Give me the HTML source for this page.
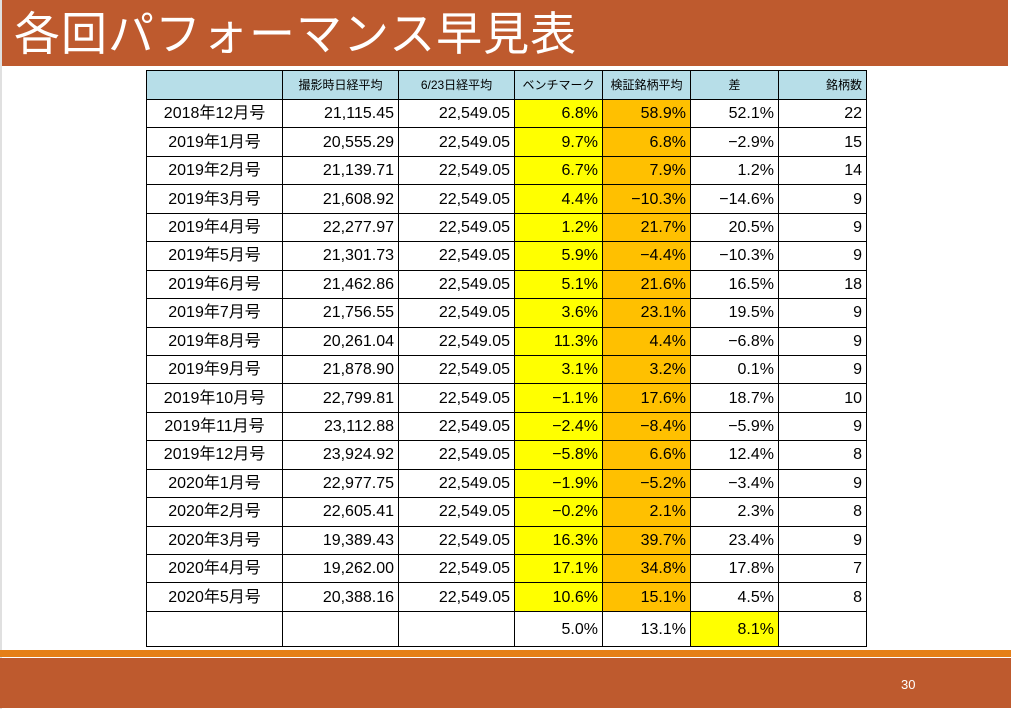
<!DOCTYPE html>
<html><head><meta charset="utf-8"><style>
body{margin:0;width:1011px;height:709px;background:#fff;position:relative;overflow:hidden;font-family:"Liberation Sans","Noto Sans CJK JP",sans-serif;}
#lg{position:absolute;left:0;top:0;width:2px;height:709px;background:#e0e0e0}
#title{position:absolute;left:2px;top:0;width:1006px;height:66px;background:#BE5A2E;color:#fff;font-size:46px;line-height:62px;padding-left:12px;box-sizing:border-box;font-family:"Noto Sans CJK JP",sans-serif;letter-spacing:1px}
#ob{position:absolute;left:0;top:650px;width:1011px;height:7px;background:#E57F17}
#bb{position:absolute;left:0;top:658px;width:1011px;height:50px;background:#BE5A2E}
#pn{position:absolute;left:901px;top:677px;color:#fff;font-size:13px}
table{position:absolute;left:146px;top:70px;border-collapse:collapse;font-size:16px;}
td{border:1.5px solid #000;padding:0 4px;text-align:right;height:27.45px;line-height:27px;white-space:nowrap;}
tr.h td{background:#B7DEE8;font-size:12px;height:28px;text-align:center}
td.n{text-align:center}
.y{background:#FFFF00}.o{background:#FFC000}
tr.t td{height:34.5px}
</style></head><body>
<div id="lg"></div>
<div id="title">各回パフォーマンス早見表</div>
<table>
<colgroup><col style="width:136px"><col style="width:116px"><col style="width:116px"><col style="width:88px"><col style="width:88px"><col style="width:88px"><col style="width:88px"></colgroup>
<tr class="h"><td></td><td>撮影時日経平均</td><td>6/23日経平均</td><td>ベンチマーク</td><td>検証銘柄平均</td><td>差</td><td style="text-align:right">銘柄数</td></tr>
<tr><td class="n">2018年12月号</td><td>21,115.45</td><td>22,549.05</td><td class="y">6.8%</td><td class="o">58.9%</td><td>52.1%</td><td>22</td></tr>
<tr><td class="n">2019年1月号</td><td>20,555.29</td><td>22,549.05</td><td class="y">9.7%</td><td class="o">6.8%</td><td>−2.9%</td><td>15</td></tr>
<tr><td class="n">2019年2月号</td><td>21,139.71</td><td>22,549.05</td><td class="y">6.7%</td><td class="o">7.9%</td><td>1.2%</td><td>14</td></tr>
<tr><td class="n">2019年3月号</td><td>21,608.92</td><td>22,549.05</td><td class="y">4.4%</td><td class="o">−10.3%</td><td>−14.6%</td><td>9</td></tr>
<tr><td class="n">2019年4月号</td><td>22,277.97</td><td>22,549.05</td><td class="y">1.2%</td><td class="o">21.7%</td><td>20.5%</td><td>9</td></tr>
<tr><td class="n">2019年5月号</td><td>21,301.73</td><td>22,549.05</td><td class="y">5.9%</td><td class="o">−4.4%</td><td>−10.3%</td><td>9</td></tr>
<tr><td class="n">2019年6月号</td><td>21,462.86</td><td>22,549.05</td><td class="y">5.1%</td><td class="o">21.6%</td><td>16.5%</td><td>18</td></tr>
<tr><td class="n">2019年7月号</td><td>21,756.55</td><td>22,549.05</td><td class="y">3.6%</td><td class="o">23.1%</td><td>19.5%</td><td>9</td></tr>
<tr><td class="n">2019年8月号</td><td>20,261.04</td><td>22,549.05</td><td class="y">11.3%</td><td class="o">4.4%</td><td>−6.8%</td><td>9</td></tr>
<tr><td class="n">2019年9月号</td><td>21,878.90</td><td>22,549.05</td><td class="y">3.1%</td><td class="o">3.2%</td><td>0.1%</td><td>9</td></tr>
<tr><td class="n">2019年10月号</td><td>22,799.81</td><td>22,549.05</td><td class="y">−1.1%</td><td class="o">17.6%</td><td>18.7%</td><td>10</td></tr>
<tr><td class="n">2019年11月号</td><td>23,112.88</td><td>22,549.05</td><td class="y">−2.4%</td><td class="o">−8.4%</td><td>−5.9%</td><td>9</td></tr>
<tr><td class="n">2019年12月号</td><td>23,924.92</td><td>22,549.05</td><td class="y">−5.8%</td><td class="o">6.6%</td><td>12.4%</td><td>8</td></tr>
<tr><td class="n">2020年1月号</td><td>22,977.75</td><td>22,549.05</td><td class="y">−1.9%</td><td class="o">−5.2%</td><td>−3.4%</td><td>9</td></tr>
<tr><td class="n">2020年2月号</td><td>22,605.41</td><td>22,549.05</td><td class="y">−0.2%</td><td class="o">2.1%</td><td>2.3%</td><td>8</td></tr>
<tr><td class="n">2020年3月号</td><td>19,389.43</td><td>22,549.05</td><td class="y">16.3%</td><td class="o">39.7%</td><td>23.4%</td><td>9</td></tr>
<tr><td class="n">2020年4月号</td><td>19,262.00</td><td>22,549.05</td><td class="y">17.1%</td><td class="o">34.8%</td><td>17.8%</td><td>7</td></tr>
<tr><td class="n">2020年5月号</td><td>20,388.16</td><td>22,549.05</td><td class="y">10.6%</td><td class="o">15.1%</td><td>4.5%</td><td>8</td></tr>
<tr class="t"><td></td><td></td><td></td><td>5.0%</td><td>13.1%</td><td class="y">8.1%</td><td></td></tr>
</table>
<div id="ob"></div><div id="bb"></div><div id="pn">30</div>
</body></html>
